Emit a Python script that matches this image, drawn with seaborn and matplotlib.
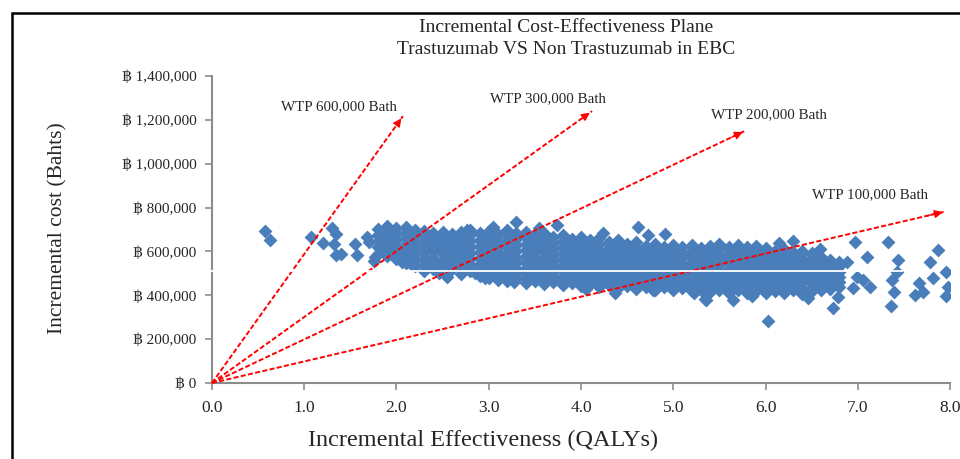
import numpy as np
import pandas as pd
import seaborn as sns
import matplotlib.pyplot as plt
from matplotlib.patches import Rectangle
from matplotlib.ticker import FuncFormatter

# ---- data ----
# dense band of simulations: one column per QALY step, costs in thousands of baht
band_x = [1.8, 1.9, 2.0, 2.1, 2.2, 2.3, 2.4, 2.5, 2.6, 2.7, 2.8, 2.9, 3.0,
          3.1, 3.2, 3.3, 3.4, 3.5, 3.6, 3.7, 3.8, 3.9, 4.0, 4.1, 4.2, 4.3,
          4.4, 4.5, 4.6, 4.7, 4.8, 4.9, 5.0, 5.1, 5.2, 5.3, 5.4, 5.5, 5.6,
          5.7, 5.8, 5.9, 6.0, 6.1, 6.2, 6.3, 6.4, 6.5, 6.6, 6.7, 6.8]
band_cost = [
    [590, 620, 648, 676, 702],
    [578, 606, 634, 662, 690, 714],
    [566, 594, 622, 650, 678, 706],
    [548, 578, 606, 634, 662, 690, 712],
    [532, 560, 588, 616, 644, 672, 698],
    [512, 540, 566, 594, 620, 648, 674, 692],
    [520, 546, 572, 600, 628, 656, 684],
    [506, 532, 558, 586, 614, 642, 670, 690],
    [520, 544, 570, 598, 626, 654, 680],
    [498, 524, 550, 578, 606, 634, 662, 690],
    [512, 538, 564, 592, 620, 648, 676, 700],
    [490, 516, 542, 570, 598, 626, 654, 682],
    [480, 506, 530, 556, 584, 612, 640, 668, 694],
    [468, 492, 516, 542, 568, 596, 624, 652, 680],
    [464, 486, 508, 534, 562, 590, 618, 646, 674, 700],
    [472, 496, 520, 546, 572, 600, 628, 656, 684],
    [458, 480, 502, 526, 552, 580, 608, 636, 664, 690],
    [466, 490, 514, 538, 564, 592, 620, 648, 676],
    [452, 474, 496, 520, 546, 572, 600, 628, 656, 684],
    [462, 484, 506, 530, 556, 582, 610, 638, 666],
    [448, 470, 490, 514, 538, 564, 592, 620, 648, 676],
    [456, 478, 500, 522, 548, 574, 602, 630, 658],
    [444, 464, 486, 508, 532, 558, 584, 612, 640, 668],
    [452, 474, 496, 518, 542, 568, 594, 622, 650],
    [440, 460, 482, 504, 526, 550, 576, 604, 632, 660],
    [448, 470, 492, 514, 536, 560, 586, 614, 642],
    [434, 456, 478, 500, 522, 546, 570, 596, 624, 650],
    [442, 464, 486, 508, 532, 556, 580, 606, 634],
    [430, 452, 474, 496, 518, 542, 566, 590, 616, 644],
    [440, 460, 482, 504, 528, 552, 576, 600, 626],
    [426, 448, 470, 492, 514, 538, 562, 586, 610, 636],
    [436, 456, 478, 500, 524, 548, 572, 596, 620],
    [422, 444, 466, 488, 510, 534, 558, 582, 606, 630],
    [432, 452, 474, 496, 520, 544, 568, 592, 618],
    [420, 440, 462, 484, 506, 530, 554, 578, 602, 628],
    [426, 448, 470, 492, 516, 540, 564, 588, 614],
    [416, 436, 458, 480, 502, 526, 550, 574, 598, 624],
    [424, 446, 468, 490, 512, 536, 560, 584, 610, 632],
    [412, 434, 456, 478, 500, 522, 546, 570, 594, 620],
    [422, 444, 466, 488, 510, 534, 558, 582, 608, 630],
    [410, 432, 454, 476, 498, 520, 544, 568, 592, 618],
    [420, 442, 464, 486, 508, 532, 556, 580, 604, 626],
    [410, 432, 454, 476, 498, 520, 542, 566, 590, 614],
    [420, 442, 464, 486, 508, 530, 554, 578, 600],
    [410, 432, 454, 476, 498, 520, 542, 564, 588, 610],
    [422, 444, 466, 488, 510, 532, 554, 576, 598],
    [406, 430, 454, 476, 498, 520, 542, 564, 586, 604],
    [418, 440, 462, 484, 506, 528, 550, 572, 592],
    [424, 446, 468, 490, 512, 534, 556, 574],
    [430, 452, 474, 496, 518, 540, 560],
    [436, 460, 484, 508, 532, 552],
]

# scattered simulations outside the band
outlier_x = [0.57, 0.63, 1.07, 1.30, 1.34, 1.20, 1.32, 1.34, 1.40, 1.55,
             1.57, 1.68, 1.70, 1.77, 1.76, 2.06, 2.17, 2.46, 2.85, 2.96,
             3.27, 3.30, 3.74, 2.76, 4.24, 4.62, 4.73, 4.91, 5.38, 4.37,
             5.34, 5.22, 4.78, 5.65, 5.36, 6.03, 6.73, 7.36, 7.33, 6.97,
             6.59, 6.30, 7.87, 7.78, 7.96, 7.98, 7.96, 7.82, 7.66, 7.71,
             7.62, 7.44, 7.42, 7.37, 7.39, 7.10, 7.06, 6.99, 7.13, 6.95,
             6.79, 6.88, 6.81, 6.46, 2.55, 3.05, 3.55, 4.05, 5.85, 6.15]
outlier_cost = [693, 652, 667, 705, 679, 637, 634, 584, 588, 634,
                584, 667, 644, 576, 558, 553, 538, 500, 500, 477,
                462, 733, 720, 698, 685, 713, 675, 679, 606, 409,
                382, 409, 424, 378, 378, 283, 341, 351, 642, 642,
                611, 649, 606, 553, 508, 439, 397, 477, 457, 416,
                401, 561, 508, 470, 416, 576, 470, 485, 439, 432,
                391, 553, 538, 386, 482, 712, 705, 430, 396, 640]

# willingness-to-pay thresholds (arrow end points)
wtp_labels = ["WTP 600,000 Bath", "WTP 300,000 Bath",
              "WTP 200,000 Bath", "WTP 100,000 Bath"]
wtp_end_x = [2.07, 4.12, 5.78, 7.95]
wtp_end_cost = [1217000, 1240000, 1150000, 782000]

mean_cost_line = 510000
mean_line_end = 7.49

x_ticks = [0, 1, 2, 3, 4, 5, 6, 7, 8]
y_ticks = [0, 200000, 400000, 600000, 800000, 1000000, 1200000, 1400000]

# ---- build the point table ----
xs, ys = [], []
for x, costs in zip(band_x, band_cost):
    for c in costs:
        xs.append(x)
        ys.append(c * 1000)
xs += outlier_x
ys += [c * 1000 for c in outlier_cost]
sims = pd.DataFrame({"effect": xs, "cost": ys})

sns.set_style("white")
plt.rcParams["font.family"] = ["Liberation Serif", "DejaVu Serif", "DejaVu Sans"]

fig = plt.figure(figsize=(9.6, 4.59), dpi=100)
ax = fig.add_axes([0.2208, 0.1656, 0.7688, 0.6688])

sns.scatterplot(data=sims, x="effect", y="cost", marker="D", s=50,
                color="#4A7EBB", linewidth=0, ax=ax, zorder=2)

# white line through the cloud
ax.hlines(mean_cost_line, -0.04, mean_line_end, color="white", lw=1.3,
          zorder=4, clip_on=False)

# WTP threshold arrows
label_pos = [(1.38, 1258000), (3.64, 1295000), (6.04, 1222000), (7.13, 857000)]
for lab, ex, ey, (lx, ly) in zip(wtp_labels, wtp_end_x, wtp_end_cost, label_pos):
    ax.plot([0, ex], [0, ey], color="#FF0000", lw=1.4, ls=(0, (2.6, 1.2)),
            zorder=3, clip_on=False)
    ax.annotate("", xy=(ex, ey), xytext=(ex * 0.97, ey * 0.97),
                arrowprops=dict(arrowstyle="-|>", color="#FF0000", lw=1,
                                mutation_scale=12),
                annotation_clip=False, zorder=3)
    ax.text(lx, ly, lab, fontsize=10.8, ha="center", va="center")

ax.set_xlim(0, 8)
ax.set_ylim(0, 1400000)
ax.set_xticks(x_ticks)
ax.set_yticks(y_ticks)
ax.xaxis.set_major_formatter(FuncFormatter(lambda v, p: f"{v:.1f}"))
ax.yaxis.set_major_formatter(FuncFormatter(lambda v, p: f"\u0e3f {v:,.0f}"))
ax.tick_params(axis="both", direction="out", length=5, width=1.2,
               color="#8C8C8C", labelsize=11, pad=6, bottom=True, left=True)
ax.tick_params(axis="x", labelsize=12.5, pad=7)
for side in ["top", "right"]:
    ax.spines[side].set_visible(False)
for side in ["left", "bottom"]:
    ax.spines[side].set_color("#8C8C8C")
    ax.spines[side].set_linewidth(1.5)
ax.set_xlabel("")
ax.set_ylabel("")

fig.text(0.503, 1 - 440 / 459, "Incremental Effectiveness (QALYs)",
         fontsize=17.5, ha="center", va="center")
fig.text(58 / 960, 1 - 228 / 459, "Incremental cost (Bahts)",
         fontsize=15.5, rotation=90, ha="center", va="center")
fig.text(566 / 960, 1 - 28 / 459, "Incremental Cost-Effectiveness Plane",
         fontsize=14, ha="center", va="center")
fig.text(566 / 960, 1 - 50 / 459, "Trastuzumab VS Non Trastuzumab in EBC",
         fontsize=14, ha="center", va="center")

# black frame around the chart (right and bottom edges fall outside the image)
fig.patches.append(Rectangle((11.5 / 960, -0.2), 1.2, 1.2 - 13.5 / 459,
                             transform=fig.transFigure, fill=False,
                             edgecolor="black", lw=1.8))

fig.savefig("out.png", dpi=100)
